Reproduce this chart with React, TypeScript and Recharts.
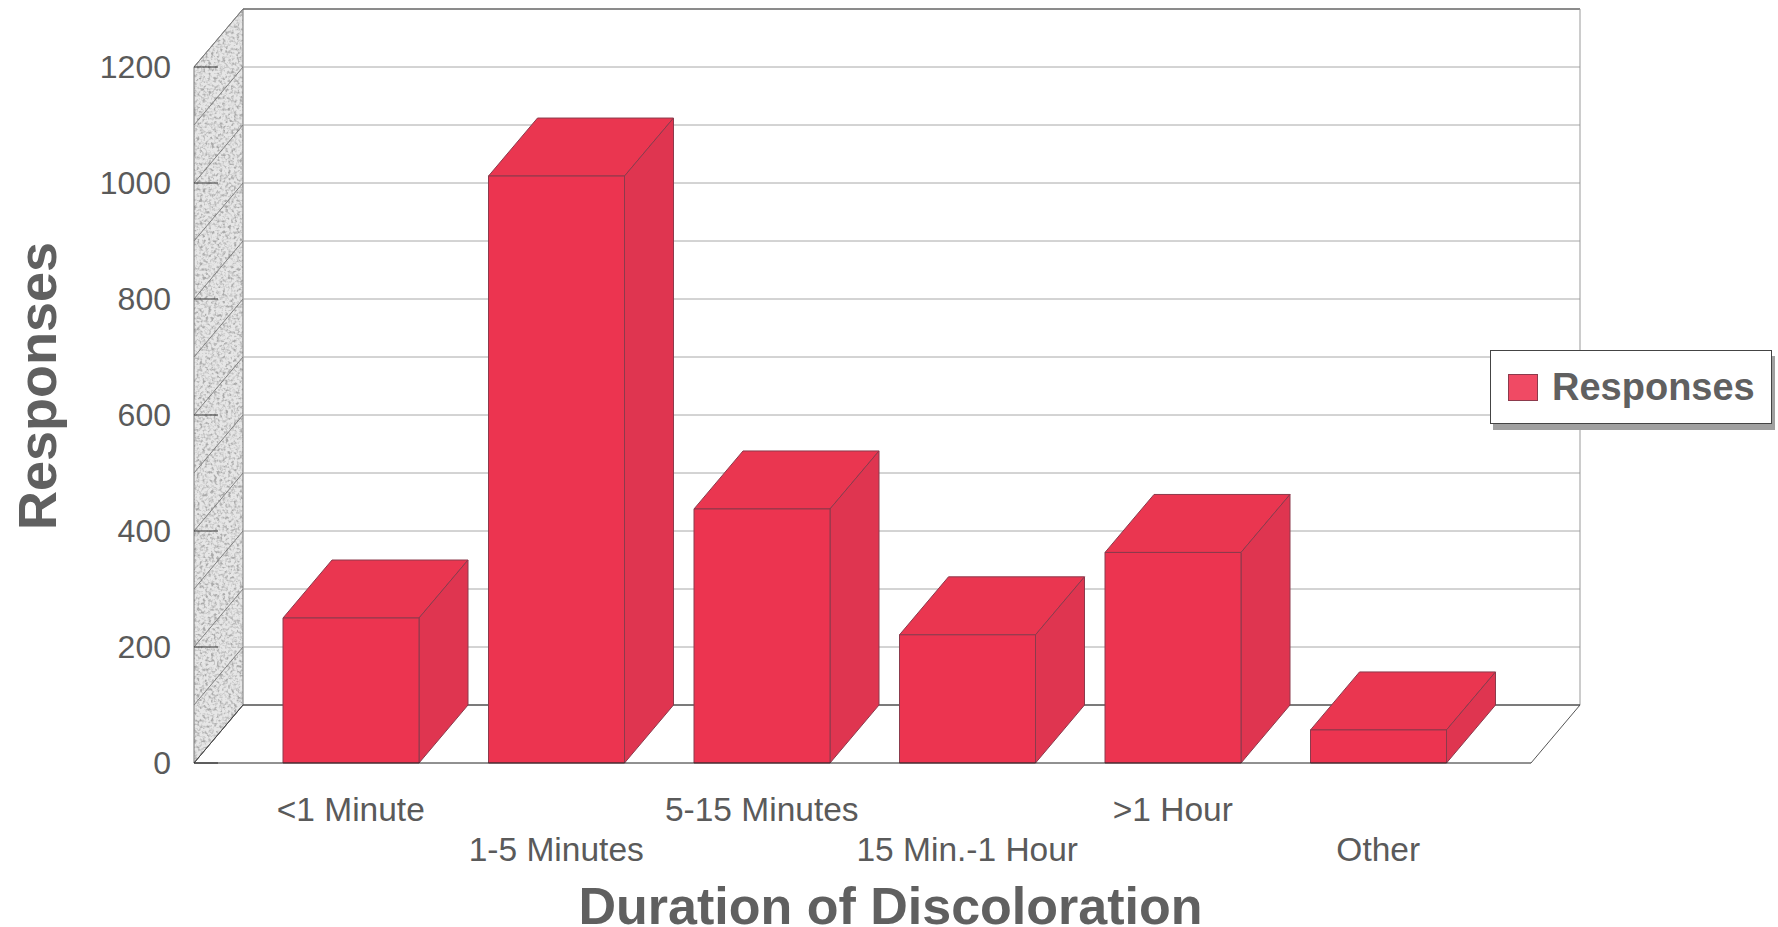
// Discoloration duration survey, drawn as a pseudo-3D bar chart.

import { Bar, BarChart, CartesianGrid, Customized, Legend, XAxis, YAxis, usePlotArea } from "recharts";

const categories = ["<1 Minute", "1-5 Minutes", "5-15 Minutes", "15 Min.-1 Hour", ">1 Hour", "Other"];
const responses = [250, 1012, 438, 221, 363, 57];
const yTicks = [0, 100, 200, 300, 400, 500, 600, 700, 800, 900, 1000, 1100, 1200];

const seriesName = "Responses";
const xTitle = "Duration of Discoloration";
const yTitle = "Responses";

const data = categories.map((name, i) => ({ name, value: responses[i] }));

const DX = 49;
const DY = -58;
const FONT = "'Liberation Sans', Arial, sans-serif";
const FRONT = "#ec3450";
const TOP = "#ea3650";
const SIDE = "#df3550";
const EDGE = "#8c3a4c";
const TEXT = "#5a5a5a";

function Box3D({ x, y, width, height }: any) {
	const r = x + width;
	const b = y + height;
	return (
		<g stroke={EDGE} strokeWidth={1} strokeLinejoin="round">
			<polygon points={`${x},${y} ${x + DX},${y + DY} ${r + DX},${y + DY} ${r},${y}`} fill={TOP} />
			<polygon points={`${r},${y} ${r + DX},${y + DY} ${r + DX},${b + DY} ${r},${b}`} fill={SIDE} />
			<rect x={x} y={y} width={width} height={height} fill={FRONT} />
		</g>
	);
}

// the grid sits in its own layer under everything, so the wall has to be drawn from a grid too
function wallLine(props: any) {
	if (props.index !== 0) return <g key={props.key} />;
	const l = props.x;
	const t = props.y;
	const b = props.y + props.height;
	const pts = `${l},${t} ${l + DX},${t + DY} ${l + DX},${b + DY} ${l},${b}`;
	return (
		<g key={props.key}>
			<defs>
				<filter id="speckle" x="0" y="0" width="100%" height="100%">
					<feTurbulence type="fractalNoise" baseFrequency="0.35" numOctaves="2" seed="4" />
					<feColorMatrix
						type="matrix"
						values="0 0 0 0 0.4  0 0 0 0 0.4  0 0 0 0 0.4  2.2 2.2 0 0 -2"
						result="dots"
					/>
					<feFlood floodColor="#e6e6e6" result="base" />
					<feMerge result="tex">
						<feMergeNode in="base" />
						<feMergeNode in="dots" />
					</feMerge>
					<feComposite in="tex" in2="SourceGraphic" operator="in" />
				</filter>
			</defs>
			<polygon points={pts} fill="#000" filter="url(#speckle)" />
			<polygon points={pts} fill="none" stroke="#777" />
		</g>
	);
}

function gridLine(props: any) {
	const { x1, x2, y1, y, height } = props;
	const step = Math.round(((y + height - y1) / height) * (yTicks.length - 1));
	return (
		<g key={props.key}>
			<line x1={x1} y1={y1} x2={x1 + DX} y2={y1 + DY} stroke="#808080" />
			<line x1={x1 + DX} y1={y1 + DY} x2={x2 + DX} y2={y1 + DY} stroke="#a8a8a8" />
			{step % 2 === 0 && <line x1={x1} y1={y1} x2={x1 + 24} y2={y1} stroke="#333" />}
		</g>
	);
}

function Frame() {
	const p = usePlotArea();
	if (!p) return null;
	const l = p.x;
	const r = p.x + p.width;
	const t = p.y;
	const b = p.y + p.height;
	return (
		<g fill="none">
			<line x1={l + DX} y1={t + DY} x2={r + DX} y2={t + DY} stroke="#444" />
			<line x1={r + DX} y1={t + DY} x2={r + DX} y2={b + DY} stroke="#999" />
			<line x1={l + DX} y1={b + DY} x2={r + DX} y2={b + DY} stroke="#222" />
			<line x1={l} y1={b} x2={l + DX} y2={b + DY} stroke="#444" />
			<line x1={r} y1={b} x2={r + DX} y2={b + DY} stroke="#555" />
		</g>
	);
}

function YTick({ y, payload }: any) {
	if (payload.value % 200 !== 0) return null;
	return (
		<text x={171} y={y} dy={11} textAnchor="end" fontFamily={FONT} fontSize={32} fill={TEXT}>
			{payload.value}
		</text>
	);
}

function XTick({ x, payload, index }: any) {
	return (
		<text
			x={x}
			y={index % 2 === 0 ? 821 : 861}
			textAnchor="middle"
			fontFamily={FONT}
			fontSize={33.5}
			fill={TEXT}
		>
			{payload.value}
		</text>
	);
}

function LegendBox() {
	return (
		<div
			style={{
				boxSizing: "border-box",
				width: 282,
				height: 74,
				background: "#fff",
				border: "1px solid #444",
				boxShadow: "3px 6px 0 #a0a0a0",
				display: "flex",
				alignItems: "center",
				fontFamily: FONT,
				fontWeight: 700,
				fontSize: 38,
				color: "#606060",
			}}
		>
			<span
				style={{
					display: "inline-block",
					width: 28,
					height: 25,
					marginLeft: 17,
					marginRight: 14,
					background: "#f04a64",
					border: "1px solid #8c3a4c",
				}}
			/>
			{seriesName}
		</div>
	);
}

export default function App() {
	return (
		<div style={{ position: "absolute", left: 0, top: 0, width: 1778, height: 927, background: "#fff" }}>
			<BarChart
				width={1778}
				height={927}
				data={data}
				margin={{ top: 67, right: 247, bottom: 0, left: 0 }}
			>
				<CartesianGrid vertical={false} horizontal={wallLine} />
				<CartesianGrid vertical={false} horizontal={gridLine} />
				<Customized component={<Frame />} />
				<XAxis
					dataKey="name"
					height={164}
					interval={0}
					padding={{ left: 54, right: 50 }}
					tick={<XTick />}
					tickLine={false}
					axisLine={{ stroke: "#222" }}
					label={{
						value: xTitle,
						position: "insideBottom",
						offset: 3,
						dx: 28,
						style: { fontFamily: FONT, fontSize: 52, fontWeight: 700, fill: "#606060" },
					}}
				/>
				<YAxis
					width={194}
					domain={[0, 1200]}
					ticks={yTicks}
					interval={0}
					tick={<YTick />}
					tickLine={false}
					axisLine={false}
					tickMargin={0}
					label={{
						value: yTitle,
						angle: -90,
						position: "insideLeft",
						dx: 32,
						dy: -29,
						style: {
							textAnchor: "middle",
							fontFamily: FONT,
							fontSize: 54,
							fontWeight: 700,
							fill: "#606060",
						},
					}}
				/>
				<Legend
					layout="vertical"
					align="center"
					verticalAlign="middle"
					content={<LegendBox />}
					wrapperStyle={{ left: 1490, top: 350, width: 282, bottom: "auto", right: "auto" }}
				/>
				<Bar dataKey="value" name={seriesName} barSize={136} shape={<Box3D />} isAnimationActive={false} />
			</BarChart>
		</div>
	);
}
